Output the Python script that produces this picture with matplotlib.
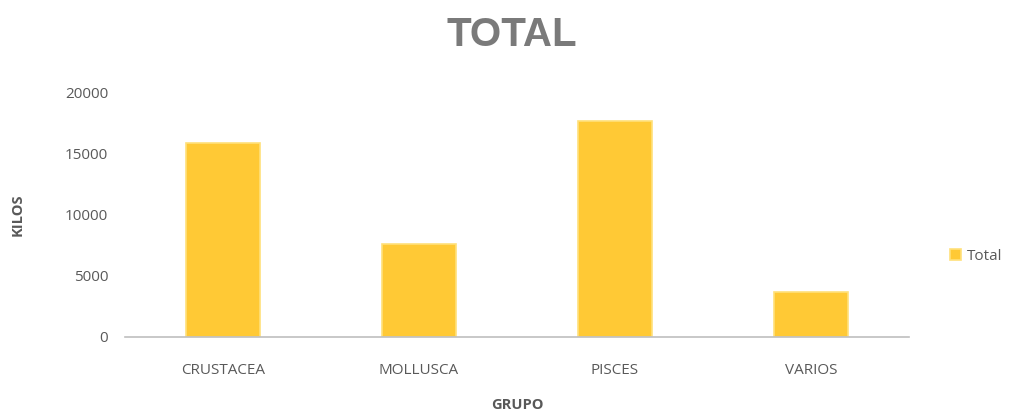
import matplotlib.pyplot as plt

grupos = ["CRUSTACEA", "MOLLUSCA", "PISCES", "VARIOS"]
kilos = [15900, 7600, 17700, 3700]
yticks = [0, 5000, 10000, 15000, 20000]

plt.rcParams['font.family'] = ['Open Sans', 'DejaVu Sans']

fig = plt.figure(figsize=(10.2, 4.17), dpi=100)
ax = fig.add_axes([0.1225, 0.192, 0.7685, 0.585])

x = range(len(grupos))
ax.bar(x, kilos, width=0.38, color='#FFC935', edgecolor='#FFE07A', linewidth=1.2,
       label='Total', zorder=2)

ax.set_xlim(-0.5, len(grupos) - 0.5)
ax.set_ylim(0, 20000)
ax.set_yticks(yticks)
ax.set_xticks(list(x))
ax.set_xticklabels(grupos)
ax.tick_params(axis='both', length=0, colors='#595959', labelsize=11)
ax.tick_params(axis='y', pad=12)
ax.tick_params(axis='x', pad=19)

for s in ['top', 'right', 'left']:
    ax.spines[s].set_visible(False)
ax.spines['bottom'].set_color('#BFBFBF')
ax.spines['bottom'].set_linewidth(1.2)

ax.set_ylabel("KILOS", fontsize=10.5, fontweight='bold', color='#595959', labelpad=29)
ax.set_xlabel("GRUPO", fontsize=10.5, fontweight='bold', color='#595959', labelpad=14)
fig.text(0.502, 0.915, "TOTAL", fontsize=29, fontweight='bold', family='Liberation Sans',
         color='#7a7a7a', ha='center', va='center')

leg = ax.legend(loc='center left', bbox_to_anchor=(1.035, 0.33), frameon=False,
                handlelength=0.7, handleheight=0.7, handletextpad=0.4, fontsize=11)
for t in leg.get_texts():
    t.set_color('#595959')

fig.savefig("out.png", dpi=100)
